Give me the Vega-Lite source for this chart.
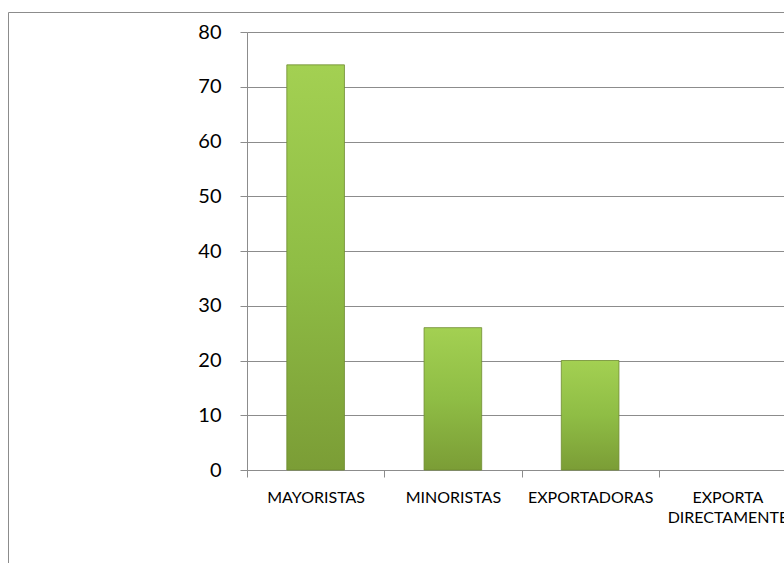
{
  "$schema": "https://vega.github.io/schema/vega-lite/v6.json",
  "width": 776,
  "height": 551,
  "padding": {"left": 8, "top": 12, "right": 0, "bottom": 0},
  "autosize": {"type": "none"},
  "background": "white",
  "config": {
    "view": {"stroke": "#8c8c8c", "strokeWidth": 1},
    "font": "Lato"
  },
  "data": {
    "values": [
      {"categoria": "MAYORISTAS", "valor": 74},
      {"categoria": "MINORISTAS", "valor": 26},
      {"categoria": "EXPORTADORAS", "valor": 20},
      {"categoria": "EXPORTA DIRECTAMENTE", "valor": 0}
    ]
  },
  "mark": {
    "type": "bar",
    "width": {"band": 0.42},
    "color": {
      "gradient": "linear",
      "x1": 0, "y1": 0, "x2": 0, "y2": 1,
      "stops": [
        {"offset": 0, "color": "#a3d052"},
        {"offset": 0.5, "color": "#8fbd45"},
        {"offset": 1, "color": "#7b9d36"}
      ]
    },
    "stroke": "#6e8b30",
    "strokeWidth": 0.8
  },
  "encoding": {
    "x": {
      "field": "categoria",
      "type": "nominal",
      "sort": null,
      "scale": {"range": [239, 788], "paddingInner": 0, "paddingOuter": 0},
      "axis": {
        "title": null,
        "offset": -93,
        "labelAngle": 0,
        "labelFontSize": 16,
        "labelColor": "#000000",
        "labelPadding": 12,
        "labelLineHeight": 20,
        "labelExpr": "datum.label == 'EXPORTA DIRECTAMENTE' ? ['EXPORTA', 'DIRECTAMENTE'] : datum.label",
        "tickBand": "extent",
        "tickSize": 7,
        "tickColor": "#8c8c8c",
        "domainColor": "#8c8c8c",
        "grid": false
      }
    },
    "y": {
      "field": "valor",
      "type": "quantitative",
      "scale": {"domain": [0, 80], "range": [458, 20], "nice": false},
      "axis": {
        "title": null,
        "offset": -239,
        "values": [0, 10, 20, 30, 40, 50, 60, 70, 80],
        "labelFontSize": 20,
        "labelColor": "#000000",
        "labelPadding": 19,
        "tickSize": 7,
        "tickColor": "#8c8c8c",
        "domainColor": "#8c8c8c",
        "grid": true,
        "gridColor": "#8c8c8c",
        "gridWidth": 1,
        "gridOpacity": 1
      }
    },
    "strokeOpacity": {
      "condition": {"test": "datum.valor == 0", "value": 0},
      "value": 1
    }
  }
}
